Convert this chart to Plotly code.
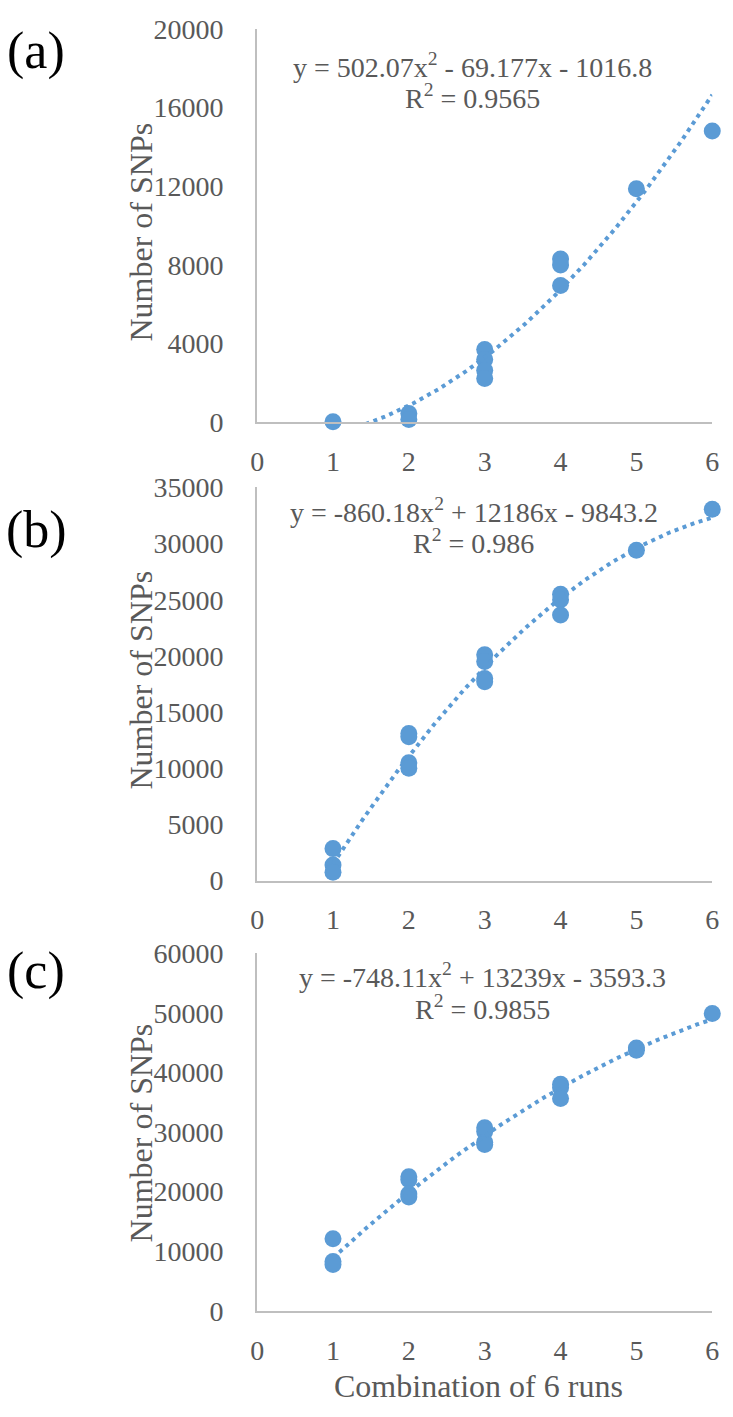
import numpy as np
import plotly.graph_objects as go

# ---------------- data ----------------
x_tick_vals = [0, 1, 2, 3, 4, 5, 6]

a_x = [1, 2, 2, 3, 3, 3, 3, 4, 4, 4, 5, 6]
a_y = [30, 450, 150, 3700, 3200, 2650, 2230, 8300, 8000, 6950, 11870, 14800]
a_coef = [502.07, -69.177, -1016.8]
a_eq = "y = 502.07x<sup>2</sup> - 69.177x - 1016.8"
a_r2 = "R<sup>2</sup> = 0.9565"
a_yticks = [0, 4000, 8000, 12000, 16000, 20000]

b_x = [1, 1, 1, 2, 2, 2, 2, 3, 3, 3, 3, 4, 4, 4, 5, 6]
b_y = [2850, 1400, 750, 13100, 12800, 10500, 10000, 20100, 19500, 18000, 17700,
       25500, 25000, 23650, 29400, 33050]
b_coef = [-860.18, 12186, -9843.2]
b_eq = "y = -860.18x<sup>2</sup> + 12186x - 9843.2"
b_r2 = "R<sup>2</sup> = 0.986"
b_yticks = [0, 5000, 10000, 15000, 20000, 25000, 30000, 35000]

c_x = [1, 1, 1, 2, 2, 2, 2, 3, 3, 3, 3, 4, 4, 4, 5, 5, 6]
c_y = [12100, 8300, 7800, 22500, 22000, 19600, 19100, 30700, 30100, 28300, 27900,
       38000, 37400, 35600, 44100, 43700, 49850]
c_coef = [-748.11, 13239, -3593.3]
c_eq = "y = -748.11x<sup>2</sup> + 13239x - 3593.3"
c_r2 = "R<sup>2</sup> = 0.9855"
c_yticks = [0, 10000, 20000, 30000, 40000, 50000, 60000]

panel_labels = ["(a)", "(b)", "(c)"]
y_title = "Number of SNPs"
x_title = "Combination of 6 runs"

# ---------------- layout helpers ----------------
W, H = 733, 1417
FONT = "Liberation Serif, Times New Roman, serif"
GREY = "#595959"
BLUE = "#5B9BD5"
AXIS = "#BFBFBF"


def px(x):
    return x / W


def py(y):
    return 1 - y / H


x_dom = [px(255), px(719)]
panels = [
    dict(top=14, bottom=416.5, x=a_x, y=a_y, coef=a_coef, eq=a_eq, r2=a_r2,
         ticks=a_yticks, eqy=(52, 83), eqx=475, laby=37, ttl=222),
    dict(top=483, bottom=885, x=b_x, y=b_y, coef=b_coef, eq=b_eq, r2=b_r2,
         ticks=b_yticks, eqy=(507, 538), eqx=476, laby=527, ttl=680),
    dict(top=959, bottom=1325, x=c_x, y=c_y, coef=c_coef, eq=c_eq, r2=c_r2,
         ticks=c_yticks, eqy=(982, 1015), eqx=485, laby=977, ttl=1143),
]

fig = go.Figure()
annotations = []
layout = {}

for i, p in enumerate(panels):
    n = "" if i == 0 else str(i + 1)
    xa, ya = "x" + n, "y" + n
    xs = np.linspace(min(p["x"]), max(p["x"]), 300)
    ys = np.polyval(p["coef"], xs)
    fig.add_trace(go.Scatter(
        x=p["x"], y=p["y"], mode="markers", xaxis=xa, yaxis=ya,
        marker=dict(size=17, color=BLUE, line=dict(width=0)),
        cliponaxis=False, showlegend=False, hoverinfo="skip"))
    fig.add_trace(go.Scatter(
        x=xs, y=ys, mode="lines", xaxis=xa, yaxis=ya,
        line=dict(color=BLUE, width=4, dash="4px,4.5px"),
        showlegend=False, hoverinfo="skip"))

    layout["xaxis" + n] = dict(
        domain=x_dom, anchor=ya, range=[0, 6], tickvals=x_tick_vals,
        showgrid=False, zeroline=False, showline=True, linecolor=AXIS,
        linewidth=2, ticks="", ticklabelstandoff=13, ticklabeloverflow="allow",
        tickfont=dict(family=FONT, size=28, color=GREY), fixedrange=True)
    layout["yaxis" + n] = dict(
        domain=[py(p["bottom"]), py(p["top"])], anchor=xa,
        range=[0, max(p["ticks"])], tickvals=p["ticks"], tickformat="d",
        showgrid=False, zeroline=False, showline=True, linecolor=AXIS,
        linewidth=2, ticks="", ticklabelstandoff=26, ticklabeloverflow="allow",
        tickfont=dict(family=FONT, size=28, color=GREY), fixedrange=True)

    annotations += [
        dict(text=p["eq"], x=px(p["eqx"]), y=py(p["eqy"][0]), xref="paper",
             yref="paper", xanchor="center", yanchor="middle", showarrow=False,
             font=dict(family=FONT, size=28, color=GREY)),
        dict(text=p["r2"], x=px(p["eqx"]), y=py(p["eqy"][1]), xref="paper",
             yref="paper", xanchor="center", yanchor="middle", showarrow=False,
             font=dict(family=FONT, size=28, color=GREY)),
        dict(text=panel_labels[i], x=px(30), y=py(p["laby"]), xref="paper",
             yref="paper", xanchor="center", yanchor="middle", showarrow=False,
             font=dict(family=FONT, size=52, color="black")),
        dict(text=y_title, x=px(137), y=py(p["ttl"]),
             xref="paper", yref="paper", xanchor="center", yanchor="middle",
             textangle=-90, showarrow=False,
             font=dict(family=FONT, size=32, color=GREY)),
    ]

annotations.append(dict(
    text=x_title, x=px(481), y=py(1402), xref="paper", yref="paper",
    xanchor="center", yanchor="middle", showarrow=False,
    font=dict(family=FONT, size=32, color=GREY)))

fig.update_layout(
    width=W, height=H, margin=dict(l=0, r=0, t=0, b=0),
    paper_bgcolor="white", plot_bgcolor="white",
    annotations=annotations, **layout)

# remove the browser's default body margin so the figure fills the window
fig.write_html("out.html", config={"displayModeBar": False},
               post_script="document.body.style.margin='0px';")
